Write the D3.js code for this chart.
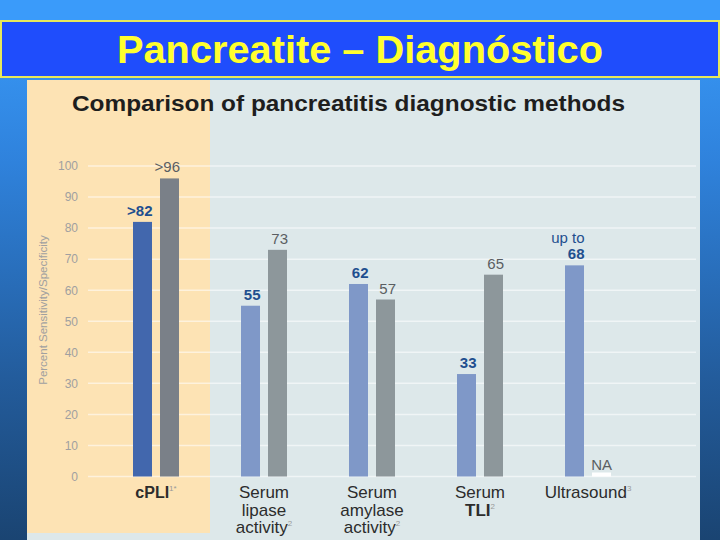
<!DOCTYPE html>
<html>
<head>
<meta charset="utf-8">
<script src="https://cdn.jsdelivr.net/npm/d3@7"></script>
<style>
html,body{margin:0;padding:0;}
svg{display:block;}
</style>
</head>
<body>
<svg id="chart" width="720" height="540"></svg>
<script>
// ---- data ----
const categories = ["cPLI", "Serum lipase activity", "Serum amylase activity", "Serum TLI", "Ultrasound"];
const categoryLines = [["cPLI"], ["Serum", "lipase", "activity"], ["Serum", "amylase", "activity"], ["Serum", "TLI"], ["Ultrasound"]];
const categorySup = ["1*", "2", "2", "2", "3"];
const sensitivity = [82, 55, 62, 33, 68];
const specificity = [96, 73, 57, 65, null];
const sensitivityLabels = [[">82"], ["55"], ["62"], ["33"], ["up to", "68"]];
const specificityLabels = [">96", "73", "57", "65", "NA"];
const yTicks = [0, 10, 20, 30, 40, 50, 60, 70, 80, 90, 100];
const pageTitle = "Pancreatite – Diagnóstico";
const chartTitle = "Comparison of pancreatitis diagnostic methods";
const yAxisTitle = "Percent Sensitivity/Specificity";

const svg = d3.select("#chart");
const font = "Liberation Sans, Arial, Helvetica, sans-serif";

// background gradient
const defs = svg.append("defs");
const g1 = defs.append("linearGradient").attr("id", "bg").attr("x1", 0).attr("y1", 0).attr("x2", 0).attr("y2", 1);
g1.append("stop").attr("offset", "0%").attr("stop-color", "#3a9cfb");
g1.append("stop").attr("offset", "30%").attr("stop-color", "#2f82dc");
g1.append("stop").attr("offset", "70%").attr("stop-color", "#235c9c");
g1.append("stop").attr("offset", "100%").attr("stop-color", "#1a4472");
svg.append("rect").attr("width", 720).attr("height", 540).attr("fill", "url(#bg)");
svg.append("rect").attr("x", 0).attr("y", 0).attr("width", 720).attr("height", 20).attr("fill", "#3a9bfa");

// title banner
svg.append("rect").attr("x", 1).attr("y", 21).attr("width", 718).attr("height", 56)
  .attr("fill", "#1f4dfc").attr("stroke", "#e8e85a").attr("stroke-width", 2);
svg.append("text").attr("x", 117).attr("y", 63)
  .attr("font-family", font).attr("font-weight", "bold").attr("font-size", 39)
  .attr("textLength", 486).attr("lengthAdjust", "spacingAndGlyphs")
  .attr("fill", "#ffff2e").text(pageTitle);

// chart panel
svg.append("rect").attr("x", 27).attr("y", 80).attr("width", 673).attr("height", 460).attr("fill", "#dde8ea");
svg.append("rect").attr("x", 27).attr("y", 80).attr("width", 183).attr("height", 453).attr("fill", "#fde3b4");

svg.append("text").attr("x", 72).attr("y", 111)
  .attr("font-family", font).attr("font-size", 22).attr("font-weight", "bold")
  .attr("textLength", 553).attr("lengthAdjust", "spacingAndGlyphs")
  .attr("fill", "#1e1e1e").text(chartTitle);

// scales
const y = d3.scaleLinear().domain([0, 100]).range([476.5, 166]);
const x = d3.scaleBand().domain(categories).range([102, 642]).paddingInner(0).paddingOuter(0);
const barW = 19, gap = 8;

// gridlines
const gridX0 = 88, gridX1 = 696;
svg.append("g").selectAll("line").data(yTicks).join("line")
  .attr("x1", gridX0).attr("x2", gridX1)
  .attr("y1", d => y(d)).attr("y2", d => y(d))
  .attr("stroke", "#ffffff").attr("stroke-opacity", 0.55).attr("stroke-width", 1.5);

// y axis tick labels
const yAxis = d3.axisLeft(y).tickValues(yTicks).tickSize(0).tickPadding(0);
const ya = svg.append("g").attr("transform", "translate(78,0)").call(yAxis);
ya.select(".domain").remove();
ya.selectAll("text").attr("font-family", font).attr("font-size", 12).attr("fill", "#a0a0a0");

svg.append("text").attr("transform", "translate(47,310) rotate(-90)")
  .attr("text-anchor", "middle").attr("font-family", font).attr("font-size", 11.5)
  .attr("fill", "#a0a0a0").text(yAxisTitle);

// bars
const cx = c => x(c) + x.bandwidth() / 2;
const blueColor = (i) => i === 0 ? "#4267ad" : "#7f98c8";
const greyColor = (i) => i === 0 ? "#7a8088" : "#8d979b";

const gb = svg.append("g");
gb.selectAll("rect.sens").data(categories).join("rect").attr("class", "sens")
  .attr("x", c => cx(c) - gap / 2 - barW)
  .attr("width", barW)
  .attr("y", (c, i) => y(sensitivity[i]))
  .attr("height", (c, i) => y(0) - y(sensitivity[i]))
  .attr("fill", (c, i) => blueColor(i));

gb.selectAll("rect.spec").data(categories).join("rect").attr("class", "spec")
  .attr("x", c => cx(c) + gap / 2)
  .attr("width", barW)
  .attr("y", (c, i) => specificity[i] == null ? y(0) - 4 : y(specificity[i]))
  .attr("height", (c, i) => specificity[i] == null ? 4 : y(0) - y(specificity[i]))
  .attr("fill", (c, i) => specificity[i] == null ? "#ffffff" : greyColor(i));

// value labels (right-aligned to bar edge)
categories.forEach((c, i) => {
  const lines = sensitivityLabels[i];
  const t = svg.append("text").attr("text-anchor", "end")
    .attr("font-family", font).attr("font-size", 15).attr("fill", "#1f4f8f");
  lines.forEach((ln, k) => {
    t.append("tspan").attr("x", cx(c) - gap / 2 + 0.5)
      .attr("y", y(sensitivity[i]) - 6 - (lines.length - 1 - k) * 16)
      .attr("font-weight", ln === "up to" ? "normal" : "bold")
      .text(ln);
  });
  const sv = specificity[i];
  svg.append("text").attr("text-anchor", "end")
    .attr("x", cx(c) + gap / 2 + barW + 1)
    .attr("y", sv == null ? y(0) - 7 : y(sv) - 6)
    .attr("font-family", font).attr("font-size", 15)
    .attr("fill", "#5a5e62").text(specificityLabels[i]);
});

// category labels
categories.forEach((c, i) => {
  const lines = categoryLines[i];
  const t = svg.append("text").attr("text-anchor", "middle")
    .attr("font-family", font).attr("font-size", i === 0 ? 16 : 17).attr("fill", "#2c2c2c");
  lines.forEach((ln, k) => {
    t.append("tspan").attr("x", cx(c)).attr("y", 498 + k * 17.5)
      .attr("font-weight", (i === 0 || (i === 3 && k === 1)) ? "bold" : "normal")
      .text(ln);
    if (k === lines.length - 1) {
      t.append("tspan").attr("dy", -7).attr("font-size", 8).attr("fill", "#999").text(categorySup[i]);
    }
  });
});
</script>
</body>
</html>
